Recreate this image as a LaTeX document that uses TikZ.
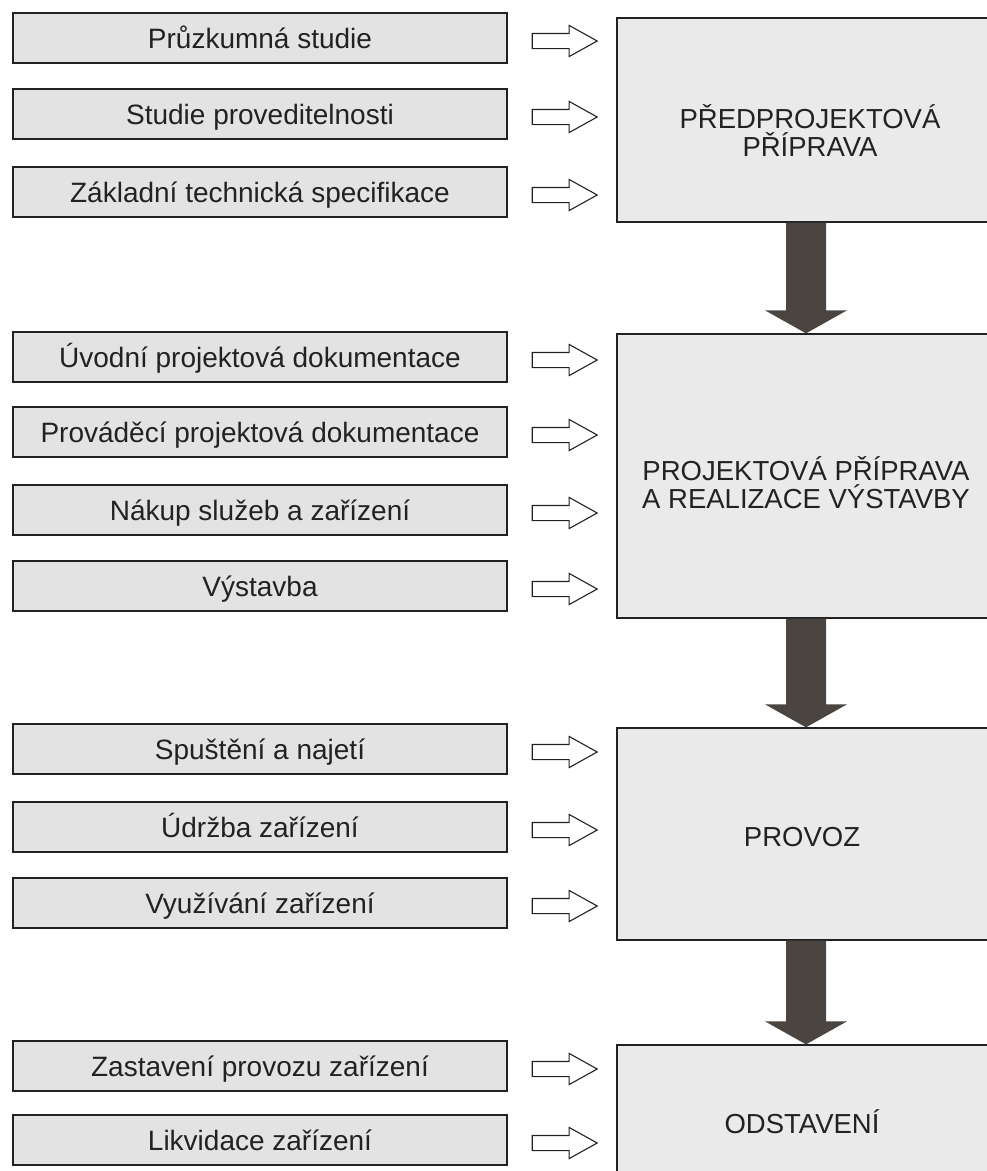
\documentclass[tikz,border=0pt]{standalone}
\usepackage{fontspec}
\setmainfont{Liberation Sans}
\usetikzlibrary{shapes.arrows,calc}
\definecolor{lgray}{HTML}{E3E3E3}
\definecolor{bgray}{HTML}{EAEAEA}
\definecolor{darr}{HTML}{4A4540}
\definecolor{ink}{HTML}{222222}
\begin{document}
\begin{tikzpicture}[x=1pt,y=-1pt,
  lbox/.style={draw=ink, fill=lgray, line width=1.3pt, minimum width=494pt, minimum height=50pt,
    inner sep=0pt, text=ink, font=\fontsize{28}{30}\selectfont, text height=20pt, text depth=0pt},
  bbox/.style={draw=ink, fill=bgray, line width=1.3pt, inner sep=0pt, minimum width=378pt},
  btext/.style={text=ink, font=\fontsize{27.5}{28}\selectfont, align=center},
  harr/.style={single arrow, draw=ink, fill=white, line width=1.1pt, minimum height=65pt,
    inner sep=7pt, single arrow head extend=8pt, single arrow tip angle=58, anchor=west},
  bigarrow/.style={fill=darr}
]
\useasboundingbox (0,0) rectangle (987,1171);
\clip (0,0) rectangle (987,1171);
\fill[white] (0,0) rectangle (987,1171);

% big boxes
\node[bbox, minimum height=204pt] (B1) at (806,120) {};
\node[bbox, minimum height=284pt] (B2) at (806,476) {};
\node[bbox, minimum height=212pt] (B3) at (806,834) {};
\node[bbox, minimum height=140pt] (B4) at (806,1115) {};

\node[btext] (T1) at (810,130) {PŘEDPROJEKTOVÁ\\PŘÍPRAVA};
\node[btext] (T2) at (806,483) {PROJEKTOVÁ PŘÍPRAVA\\A REALIZACE VÝSTAVBY};
\node[btext] (T3) at (802,837) {PROVOZ};
\node[btext] (T4) at (802,1122) {ODSTAVENÍ};

% left boxes
\node[lbox] (L1) at (260,38) {Průzkumná studie};
\node[lbox] (L2) at (260,114) {Studie proveditelnosti};
\node[lbox] (L3) at (260,192) {Základní technická specifikace};
\node[lbox] (L4) at (260,357) {Úvodní projektová dokumentace};
\node[lbox] (L5) at (260,432) {Prováděcí projektová dokumentace};
\node[lbox] (L6) at (260,510) {Nákup služeb a zařízení};
\node[lbox] (L7) at (260,586) {Výstavba};
\node[lbox] (L8) at (260,749) {Spuštění a najetí};
\node[lbox] (L9) at (260,827) {Údržba zařízení};
\node[lbox] (L10) at (260,903) {Využívání zařízení};
\node[lbox] (L11) at (260,1066) {Zastavení provozu zařízení};
\node[lbox] (L12) at (260,1140) {Likvidace zařízení};

% hollow arrows
\foreach \i in {1,...,12} {
  \node[harr] (A\i) at ($(L\i.east)+(24,3)$) {};
}

% dark arrows between phases
\foreach \a/\b in {B1/B2,B2/B3,B3/B4} {
  \fill[bigarrow] ($(\a.south)+(-20,0)$) -- ($(\b.north)+(-20,-23)$) -- ($(\b.north)+(-41,-23)$)
    -- (\b.north) -- ($(\b.north)+(41,-23)$) -- ($(\b.north)+(20,-23)$) -- ($(\a.south)+(20,0)$) -- cycle;
}
\end{tikzpicture}
\end{document}
